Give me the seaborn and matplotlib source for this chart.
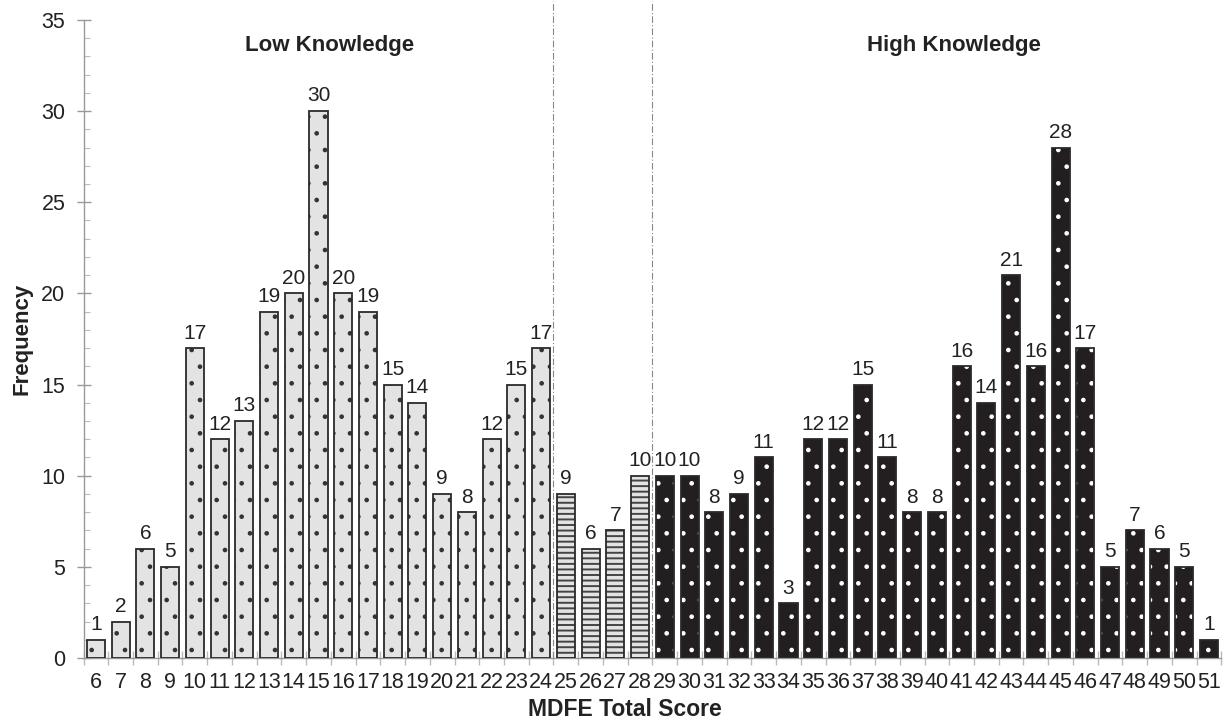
import matplotlib
matplotlib.use("Agg")
import matplotlib.pyplot as plt
import seaborn as sns
import pandas as pd
from matplotlib.ticker import MultipleLocator, FixedLocator

scores = list(range(6, 52))
freq = [1, 2, 6, 5, 17, 12, 13, 19, 20, 30, 20, 19, 15, 14, 9, 8, 12, 15, 17,
        9, 6, 7, 10,
        10, 10, 8, 9, 11, 3, 12, 12, 15, 11, 8, 8, 16, 14, 21, 16, 28, 17, 5, 7, 6, 5, 1]
groups = (["Low"] * 19) + (["Mid"] * 4) + (["High"] * 23)

df = pd.DataFrame({"score": [str(s) for s in scores], "freq": freq, "group": groups})

sns.set_theme(style="white")
plt.rcParams["font.family"] = ["Liberation Sans", "DejaVu Sans"]
plt.rcParams["hatch.linewidth"] = 1.0

fig = plt.figure(figsize=(12.28, 7.21), dpi=100)
ax = fig.add_axes([0.068, 0.0874, 0.9266, 0.885])

face = {"Low": "#e3e3e3", "Mid": "#e3e3e3", "High": "#231f20"}
sns.barplot(data=df, x="score", y="freq", hue="group", palette=face,
            dodge=False, width=0.73, legend=False, ax=ax, saturation=1,
            order=[str(s) for s in scores])

hatch_map = {"Low": ".", "Mid": "---", "High": "."}
hatch_col = {"Low": "#333333", "Mid": "#444444", "High": "#ffffff"}
hatch_lw = {"Low": 0.9, "Mid": 1.4, "High": 0.9}
for cont, g in zip(ax.containers, ["Low", "Mid", "High"]):
    for p in cont:
        p.set_hatch(hatch_map[g])
        p.set_edgecolor(hatch_col[g])
        p.set_linewidth(0)
        if hasattr(p, "set_hatch_linewidth"):
            p.set_hatch_linewidth(hatch_lw[g])
        ax.add_patch(plt.Rectangle(p.get_xy(), p.get_width(), p.get_height(),
                                   fill=False, edgecolor="#2a2a2a", linewidth=1.3, zorder=3))
    ax.bar_label(cont, padding=4, fontsize=15, color="#222222")

ax.set_xlim(-0.5, len(scores) - 0.5)
ax.set_ylim(0, 35)

for xv in [18.5, 22.5]:
    ax.axvline(xv, ymin=0, ymax=1.03, color="#888888", lw=0.8, ls=(0, (6, 2, 1, 2)), clip_on=False)

ax.text(9.46, 33.6, "Low Knowledge", ha="center", va="center", fontsize=16, fontweight="bold", color="#222222")
ax.text(34.7, 33.6, "High Knowledge", ha="center", va="center", fontsize=16, fontweight="bold", color="#222222")

ax.set_xlabel("MDFE Total Score", fontsize=16.5, fontweight="bold", color="#222222")
ax.xaxis.set_label_coords(0.476, -0.062)
ax.set_ylabel("Frequency", fontsize=16, fontweight="bold", color="#222222")
ax.yaxis.set_label_coords(-0.045, 0.5)

for s in ["top", "right"]:
    ax.spines[s].set_visible(False)
for s in ["left", "bottom"]:
    ax.spines[s].set_color("#999999")
    ax.spines[s].set_linewidth(1)

ax.yaxis.set_major_locator(MultipleLocator(5))
ax.yaxis.set_minor_locator(MultipleLocator(1))
ax.tick_params(axis="y", which="major", direction="inout", length=10, width=1, color="#999999",
               labelsize=15.5, labelcolor="#222222", left=True, pad=8)
ax.tick_params(axis="y", which="minor", direction="in", length=4, width=0.8, color="#bbbbbb", left=True)
ax.xaxis.set_minor_locator(FixedLocator([i - 0.5 for i in range(len(scores) + 1)]))
ax.tick_params(axis="x", which="major", length=0, labelsize=15.5, labelcolor="#222222", pad=10)
ax.tick_params(axis="x", which="minor", direction="inout", length=10, width=1, color="#bbbbbb", bottom=True)

fig.savefig("out.png", dpi=100)
